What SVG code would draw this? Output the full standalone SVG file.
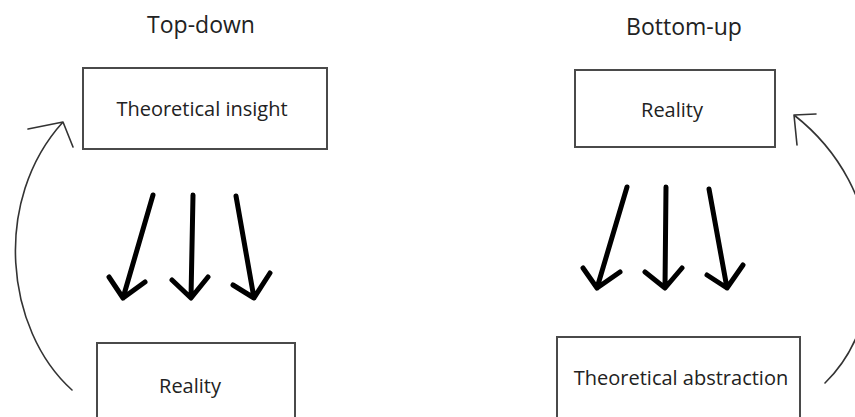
<svg xmlns="http://www.w3.org/2000/svg" width="855" height="417" viewBox="0 0 855 417">
<style>
.box{fill:#fff;stroke:#4a4a4a;stroke-width:2}
.lbl{font-family:"Open Sans","Liberation Sans",sans-serif;font-size:20px;fill:#222;text-anchor:middle}
.ttl{font-family:"Open Sans","Liberation Sans",sans-serif;font-size:23px;fill:#222;text-anchor:middle}
.thick{stroke:#000;stroke-width:5;fill:none;stroke-linecap:round;stroke-linejoin:round}
.thin{stroke:#333;stroke-width:1.6;fill:none;stroke-linecap:round;stroke-linejoin:round}
</style>
<rect width="855" height="417" fill="#fff"/>
<text class="ttl" x="201" y="33">Top-down</text>
<text class="ttl" x="684" y="35">Bottom-up</text>
<g id="theoretical-insight">
<rect class="box" x="83" y="68" width="244" height="81"/>
<text class="lbl" x="202" y="116">Theoretical insight</text>
</g>
<g id="reality-left">
<rect class="box" x="97" y="343" width="198" height="80"/>
<text class="lbl" x="190" y="393">Reality</text>
</g>
<g id="reality-right">
<rect class="box" x="575" y="70" width="200" height="77"/>
<text class="lbl" x="672" y="117">Reality</text>
</g>
<g id="theoretical-abstraction">
<rect class="box" x="557" y="337" width="243" height="85"/>
<text class="lbl" x="681" y="385">Theoretical abstraction</text>
</g>
<g id="connectors">
<path class="thick" d="M153,195 L123,298 M109,277 L123,298 L145,282"/>
<path class="thick" d="M193,195 L191,298 M172,280 L191,298 L208,277"/>
<path class="thick" d="M236,196 L254,298 M233,285 L254,298 L270,273"/>
<path class="thick" d="M627,187 L597,288 M583,268 L597,288 L620,272"/>
<path class="thick" d="M666,187 L665,288 M645,272 L665,288 L682,268"/>
<path class="thick" d="M709,189 L727,288 M707,275 L727,288 L743,265"/>
<path class="thin" d="M72,390 C5,330 -8,200 63,122 M28,129 L63,122 L73,147"/>
<path class="thin" d="M825,383 C890,320 890,190 794,115 M816,114 L794,115 L797,145"/>
</g>
</svg>
